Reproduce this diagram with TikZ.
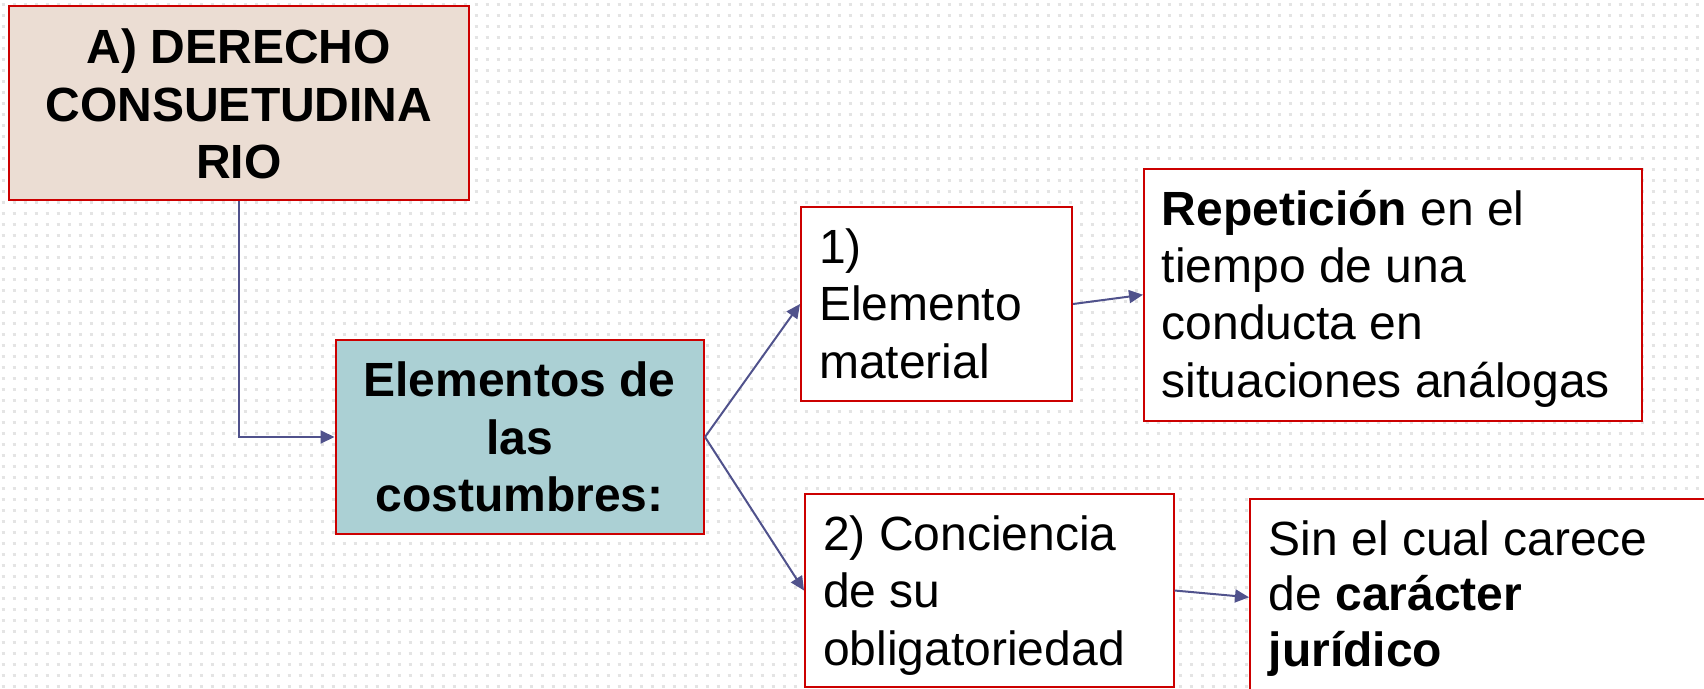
\documentclass[tikz,border=0pt]{standalone}
\usepackage{fontspec}
\setmainfont{Liberation Sans}
\usetikzlibrary{arrows.meta}
\definecolor{boxred}{RGB}{204,0,0}
\definecolor{conncol}{RGB}{80,82,140}
\definecolor{fillA}{RGB}{235,221,211}
\definecolor{fillE}{RGB}{171,208,212}
\definecolor{dotcol}{RGB}{228,228,228}
\tikzset{
  boxstyle/.style={draw=boxred, line width=2pt, rectangle, inner sep=0pt, fill=white},
  conn/.style={draw=conncol, line width=2pt, -{Triangle[length=14pt,width=13pt]}},
  txtc/.style={inner sep=0pt, anchor=base, font=\fontsize{48}{57.6}\selectfont\bfseries},
  txtl/.style={inner sep=0pt, anchor=base west, font=\fontsize{48}{57.6}\selectfont},
  dotrow/.style={draw=dotcol, line width=3.5pt, dash pattern=on 3.5pt off 7.5pt}
}
\begin{document}
\begin{tikzpicture}[x=1pt,y=-1pt]
\useasboundingbox (0,0) rectangle (1704,688);
\fill[white] (0,0) rectangle (1704,688);
\foreach \r in {0,...,62} {
  \draw[dotrow] (1.5,4.5+11*\r) -- (1704,4.5+11*\r);
}
% boxes
\node[boxstyle, fill=fillA, minimum width=460pt, minimum height=194pt] (A) at (239,103) {};
\node[boxstyle, fill=fillE, minimum width=368.5pt, minimum height=194pt] (E) at (519.75,437) {};
\node[boxstyle, minimum width=271pt, minimum height=194pt] (B1) at (936.5,304) {};
\node[boxstyle, minimum width=497.5pt, minimum height=251.5pt] (R) at (1392.75,294.75) {};
\node[boxstyle, minimum width=368.5pt, minimum height=193pt] (B2) at (989.25,590.5) {};
\node[boxstyle, minimum width=462pt, minimum height=197.5pt] (S) at (1481,597.25) {};
% texts
\node[txtc] (a1) at (239,63.5) {A) DERECHO};
\node[txtc] (a2) at (239,121) {CONSUETUDINA};
\node[txtc] (a3) at (239,178.5) {RIO};
\node[txtc] (e1) at (519.5,396.5) {Elementos de};
\node[txtc] (e2) at (519.5,454) {las};
\node[txtc] (e3) at (519.5,511.5) {costumbres:};
\node[txtl] (b11) at (819,263) {1)};
\node[txtl] (b12) at (819,320.5) {Elemento};
\node[txtl] (b13) at (819,378) {material};
\node[txtl] (r1) at (1161.5,225) {\textbf{Repetición} en el};
\node[txtl] (r2) at (1161.5,282.3) {tiempo de una};
\node[txtl] (r3) at (1161.5,339.7) {conducta en};
\node[txtl] (r4) at (1161.5,397) {situaciones análogas};
\node[txtl] (b21) at (823,550) {2) Conciencia};
\node[txtl] (b22) at (823,607) {de su};
\node[txtl] (b23) at (823,665) {obligatoriedad};
\node[txtl] (s1) at (1268.5,555) {Sin el cual carece};
\node[txtl] (s2) at (1268.5,610.5) {de \textbf{carácter}};
\node[txtl] (s3) at (1268.5,666.5) {\textbf{jurídico}};
% connectors
\draw[conn] (A.south) |- (E.west);
\draw[conn] (E.east) -- (B1.west);
\draw[conn] (E.east) -- (B2.west);
\draw[conn] (B1.east) -- (R.west);
\draw[conn] (B2.east) -- (S.west);
\end{tikzpicture}
\end{document}
